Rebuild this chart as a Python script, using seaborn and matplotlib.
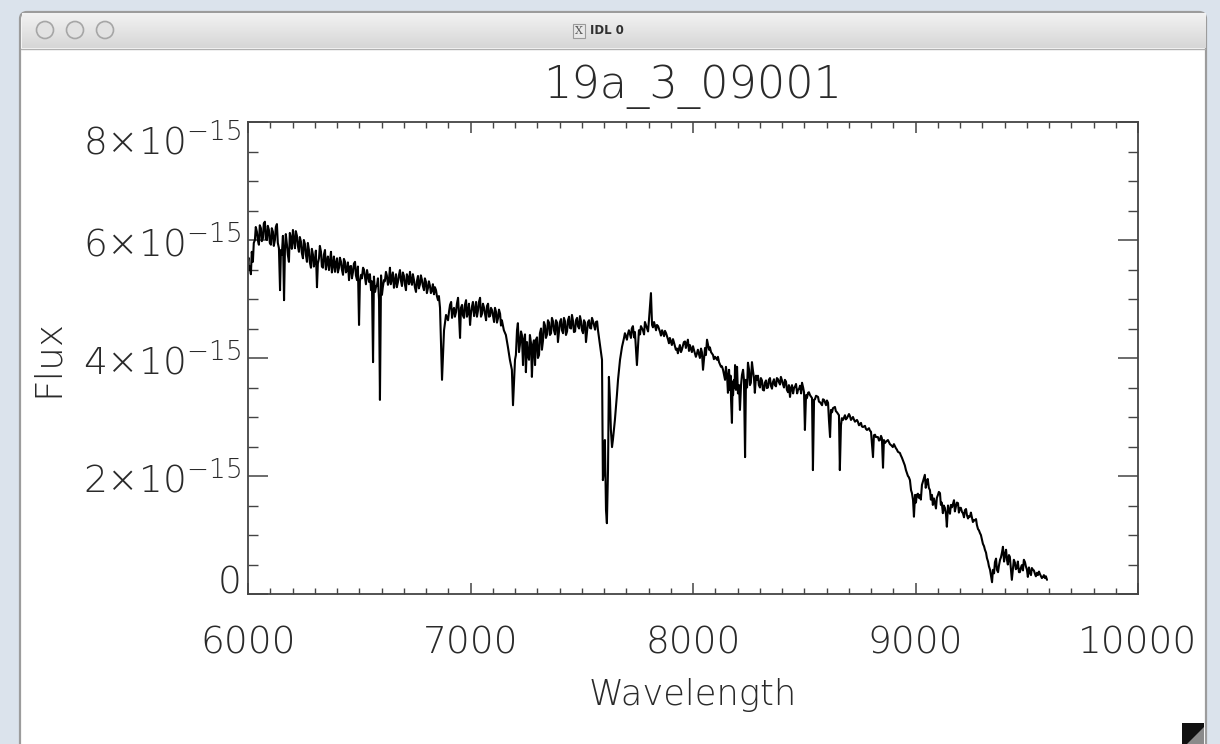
import numpy as np
import pandas as pd
import matplotlib
matplotlib.use("Agg")
import matplotlib.pyplot as plt
import seaborn as sns
from matplotlib.patches import FancyBboxPatch, Rectangle, Circle, Polygon
from matplotlib.ticker import MultipleLocator

# ---------------- data ----------------
# main trace of the spectrum
wavelength = [
    6000, 6004, 6013, 6022, 6031, 6040, 6049, 6058, 6067, 6076, 6085, 6094, 6103, 6112, 6121, 6130,
    6139, 6144, 6148, 6157, 6162, 6166, 6175, 6184, 6193, 6202, 6211, 6220, 6229, 6238,
    6247, 6256, 6265, 6274, 6283, 6292, 6301, 6310, 6319, 6328, 6337, 6346, 6355, 6364, 6373, 6382,
    6391, 6400, 6409, 6418, 6427, 6436, 6445, 6454, 6463, 6472, 6481, 6490, 6499, 6508, 6517,
    6526, 6535, 6544, 6553, 6562, 6571, 6580, 6589, 6593, 6602, 6611, 6620, 6629, 6638, 6647, 6656,
    6665, 6674, 6683, 6692, 6701, 6710, 6719, 6728, 6737, 6746, 6755, 6764, 6773, 6782, 6791, 6800,
    6809, 6818, 6827, 6836, 6845, 6854, 6863, 6872, 6881, 6890,
    6899, 6908, 6917, 6926, 6935, 6944, 6953, 6962, 6971, 6980, 6989, 6998, 7007, 7016, 7025, 7034,
    7043, 7052, 7061, 7070, 7079, 7088, 7097, 7106, 7115, 7124, 7133, 7141, 7150, 7159, 7168, 7177,
    7186, 7191, 7200,
    7209, 7213, 7222, 7231, 7236, 7240, 7249, 7254, 7263, 7267, 7276, 7281, 7290, 7294, 7303, 7312,
    7321, 7330, 7339, 7348, 7357, 7366, 7375, 7384, 7393, 7402, 7411, 7420, 7429, 7438, 7447, 7456,
    7465, 7474, 7483, 7492, 7501, 7510, 7519, 7528, 7537, 7546, 7555, 7564, 7573, 7582, 7591, 7595,
    7600, 7604, 7609, 7613, 7618, 7622, 7627, 7631, 7636, 7640, 7649, 7658, 7663, 7672, 7681, 7690,
    7694,
    7703, 7712, 7721, 7730, 7739, 7748, 7757, 7766, 7775, 7784, 7793, 7802, 7811, 7816, 7825, 7834,
    7843, 7852, 7861, 7870, 7879, 7888, 7896, 7905, 7914, 7923, 7932, 7941, 7950, 7959, 7968, 7977,
    7986, 7995, 8004, 8013, 8022, 8031, 8040, 8045, 8054, 8063, 8072, 8081, 8090, 8099, 8108, 8117,
    8126, 8135,
    8144, 8153, 8157, 8162, 8166, 8171, 8175, 8180, 8184, 8189, 8193, 8198, 8207, 8211, 8220, 8229,
    8234, 8238, 8247, 8256, 8265, 8274, 8278, 8287, 8296, 8305, 8314, 8323, 8332, 8341, 8350, 8359,
    8368, 8377, 8386, 8395, 8404, 8413, 8422, 8431, 8436, 8445, 8454, 8463, 8472, 8481, 8490, 8499,
    8503, 8508, 8517, 8526,
    8535, 8539, 8544, 8553, 8562, 8571, 8580, 8589, 8598, 8607, 8611, 8616, 8620, 8629, 8638, 8647,
    8656, 8660, 8665, 8674, 8683, 8692, 8701, 8710, 8719, 8728, 8737, 8746, 8755, 8764, 8773, 8782,
    8791, 8800, 8809, 8813, 8822, 8831, 8840, 8849, 8854, 8858, 8867, 8876, 8885, 8894, 8903, 8912,
    8921, 8930, 8939, 8948, 8957, 8966, 8975, 8980, 8984, 8989, 8993, 8998,
    9006, 9015, 9020, 9029, 9038, 9042, 9051, 9060, 9065, 9074, 9078, 9087, 9096, 9105, 9110, 9114,
    9123, 9132, 9141, 9150, 9159, 9164, 9173, 9182, 9191, 9200, 9209, 9213, 9222, 9231, 9240, 9245,
    9254, 9263, 9267, 9276, 9285, 9290, 9299, 9308, 9312, 9321, 9330, 9335, 9339, 9344, 9348, 9357,
    9366, 9371, 9380, 9389, 9393, 9402, 9411, 9420, 9424, 9429, 9433, 9438, 9447, 9456, 9465, 9469,
    9478, 9487, 9492, 9501, 9505, 9514, 9523, 9528, 9537, 9546, 9550, 9559, 9568, 9573, 9582, 9591,
]

# flux in units of 1e-15
flux_1e15 = [
    5.63, 5.49, 5.42, 5.63, 6.00, 6.14, 5.92, 6.20, 6.03, 6.31, 6.00, 6.17, 5.92, 6.14, 6.00, 6.27,
    5.86, 5.15, 5.83, 6.07, 4.98, 5.83, 5.92, 5.63, 6.03, 6.17, 5.86, 6.07, 5.80, 5.97,
    5.69, 5.93, 5.63, 5.83, 5.53, 5.75, 5.66, 5.20, 5.69, 5.80, 5.53, 5.83, 5.63, 5.49, 5.80, 5.59,
    5.46, 5.69, 5.53, 5.63, 5.41, 5.63, 5.49, 5.32, 5.56, 5.46, 5.63, 5.32, 4.56, 5.41, 5.53,
    5.36, 5.49, 5.29, 5.15, 3.93, 5.12, 5.24, 4.98, 3.29, 5.07, 5.32, 5.46, 5.24, 5.53, 5.36, 5.19,
    5.42, 5.29, 5.49, 5.22, 5.39, 5.15, 5.36, 5.46, 5.24, 5.32, 5.12, 5.39, 5.25, 5.32, 5.15, 5.29,
    5.19, 5.22, 5.15, 5.08, 5.15, 4.98, 4.85, 3.63, 4.47, 4.73,
    4.64, 4.90, 4.68, 4.85, 4.78, 5.02, 4.34, 4.90, 4.68, 4.98, 4.78, 4.56, 4.88, 4.71, 4.95, 4.81,
    5.02, 4.75, 4.85, 4.64, 4.92, 4.71, 4.81, 4.61, 4.78, 4.68, 4.75, 4.64, 4.47, 4.39, 4.19, 3.97,
    3.80, 3.20, 3.97,
    4.47, 4.59, 4.22, 4.39, 3.88, 4.31, 3.76, 4.27, 3.97, 4.39, 3.68, 4.22, 3.88, 4.31, 4.00, 4.42,
    4.14, 4.61, 4.34, 4.64, 4.39, 4.68, 4.47, 4.64, 4.27, 4.61, 4.47, 4.68, 4.39, 4.64, 4.51, 4.73,
    4.44, 4.64, 4.54, 4.71, 4.47, 4.64, 4.27, 4.61, 4.51, 4.68, 4.56, 4.61, 4.47, 4.22, 3.97, 1.93,
    2.10, 2.61, 1.42, 1.20, 2.10, 3.68, 3.29, 2.78, 2.49, 2.61, 2.95, 3.37, 3.63, 3.97, 4.19, 4.34,
    4.42,
    4.31, 4.47, 4.34, 4.54, 4.44, 3.88, 4.47, 4.54, 4.47, 4.61, 4.51, 4.64, 5.10, 4.56, 4.61, 4.47,
    4.54, 4.44, 4.47, 4.37, 4.42, 4.31, 4.34, 4.22, 4.27, 4.14, 4.08, 4.22, 4.14, 4.27, 4.17, 4.31,
    4.22, 4.10, 4.14, 4.02, 4.14, 4.00, 4.10, 3.80, 4.17, 4.31, 4.14, 4.10, 4.05, 4.02, 3.97, 3.93,
    3.85, 3.80,
    3.63, 3.71, 3.41, 3.80, 3.46, 3.29, 2.90, 3.37, 3.63, 3.88, 3.46, 3.85, 3.54, 3.12, 3.71, 3.63,
    2.32, 3.63, 3.92, 3.54, 3.93, 3.66, 3.41, 3.63, 3.54, 3.66, 3.46, 3.58, 3.49, 3.63, 3.53, 3.59,
    3.54, 3.66, 3.59, 3.68, 3.56, 3.63, 3.46, 3.54, 3.34, 3.54, 3.49, 3.56, 3.46, 3.53, 3.58, 3.42,
    2.78, 3.37, 3.41, 3.37,
    3.32, 2.10, 3.29, 3.36, 3.34, 3.25, 3.20, 3.29, 3.20, 3.24, 2.95, 2.66, 3.12, 3.15, 3.17, 3.08,
    3.03, 2.10, 2.86, 2.95, 3.03, 2.98, 3.05, 2.95, 3.00, 2.92, 2.95, 2.86, 2.90, 2.83, 2.85, 2.78,
    2.81, 2.75, 2.32, 2.69, 2.66, 2.66, 2.61, 2.64, 2.14, 2.61, 2.58, 2.61, 2.54, 2.51, 2.54, 2.47,
    2.41, 2.39, 2.31, 2.22, 2.10, 2.00, 1.93, 1.76, 1.71, 1.59, 1.31, 1.68,
    1.68, 1.63, 1.68, 1.85, 1.97, 2.02, 1.90, 1.80, 1.76, 1.68, 1.51, 1.54, 1.63, 1.73, 1.71, 1.51,
    1.37, 1.46, 1.14, 1.42, 1.51, 1.47, 1.59, 1.49, 1.54, 1.46, 1.39, 1.37, 1.42, 1.34, 1.32, 1.31,
    1.29, 1.25, 1.25, 1.17, 1.08, 1.03, 0.92, 0.81, 0.75, 0.61, 0.47, 0.41, 0.32, 0.20, 0.41, 0.54,
    0.41, 0.37, 0.58, 0.71, 0.80, 0.66, 0.58, 0.66, 0.63, 0.41, 0.24, 0.44, 0.53, 0.44, 0.37, 0.37,
    0.49, 0.58, 0.54, 0.41, 0.29, 0.37, 0.44, 0.41, 0.34, 0.36, 0.32, 0.34, 0.27, 0.29, 0.27, 0.24,
]

# additional samples (opposite edges of the band)
wavelength_extra = [
    6002, 6008, 6017, 6026, 6035, 6044, 6053, 6062, 6071, 6080, 6089, 6098, 6107, 6116, 6125, 6134,
    6152, 6170, 6179, 6188, 6197, 6206, 6215, 6224, 6233, 6242,
    6251, 6260, 6269, 6278, 6287, 6296, 6305, 6314, 6323, 6332, 6341, 6350, 6359, 6368, 6377, 6386,
    6395, 6404, 6413, 6422, 6431, 6440, 6449, 6458, 6467, 6476, 6485, 6494, 6503, 6512, 6521,
    6530, 6539, 6548, 6557, 6566, 6575, 6584, 6598, 6606, 6615, 6624, 6633, 6642, 6651, 6660, 6669,
    6678, 6687, 6696, 6705, 6714, 6723, 6732, 6741, 6750, 6759, 6768, 6777, 6786, 6795, 6804, 6813,
    6822, 6831, 6840, 6849, 6858,
    6904, 6913, 6921, 6930, 6939, 6948, 6957, 6966, 6975, 6984, 6993, 7002, 7011, 7020, 7029, 7038,
    7047, 7056, 7065, 7074, 7083, 7092, 7101, 7110, 7119, 7128, 7137,
    7204, 7218, 7227, 7245, 7258, 7272, 7285, 7299, 7308, 7317, 7326, 7335, 7344, 7353, 7362, 7371,
    7380, 7389, 7398, 7407, 7416, 7425, 7434, 7443, 7452, 7461, 7470, 7479, 7488, 7497, 7506, 7515,
    7524, 7533, 7542, 7551, 7560, 7569,
    7707, 7725, 7735, 7762, 7780, 7798, 7820, 7838, 7856, 7874, 7892, 7910, 7928, 7946, 7964, 7982,
    8000, 8018, 8036, 8058, 8076, 8094, 8112, 8130,
    8148, 8160, 8169, 8178, 8187, 8196, 8202, 8216, 8225, 8243, 8252, 8260, 8269, 8283, 8292, 8301,
    8310, 8319, 8328, 8337, 8346, 8355, 8364, 8373, 8382, 8391, 8400, 8409, 8418, 8427, 8441, 8450,
    8459, 8468, 8477, 8486, 8495, 8512, 8521,
    8548, 8566, 8584, 8602, 8625, 8642, 8669, 8687, 8705, 8723, 8741, 8759, 8777, 8795, 8818, 8836,
    8845, 8863, 8880, 8898, 8916, 8934, 8952, 8970,
    9002, 9011, 9024, 9033, 9046, 9055, 9069, 9083, 9092, 9101, 9118, 9127, 9137, 9146, 9155, 9168,
    9177, 9186, 9195, 9204, 9218, 9227, 9236, 9249, 9258, 9272, 9281, 9294, 9303, 9317, 9326, 9353,
    9362, 9375, 9384, 9398, 9407, 9415, 9442, 9451, 9460, 9474, 9483, 9496, 9510, 9519, 9532, 9541,
    9555, 9564, 9577, 9586,
]
flux_extra_1e15 = [
    5.70, 5.55, 5.80, 5.95, 6.22, 6.00, 6.25, 5.98, 6.28, 6.02, 6.24, 5.95, 6.20, 5.90, 6.22, 5.95,
    5.75, 6.10, 5.75, 6.12, 5.85, 6.00, 6.15, 5.90, 6.05, 5.78,
    6.00, 5.75, 5.95, 5.62, 5.85, 5.55, 5.82, 5.60, 5.90, 5.55, 5.75, 5.50, 5.72, 5.62, 5.45, 5.72,
    5.60, 5.45, 5.70, 5.50, 5.68, 5.45, 5.62, 5.55, 5.35, 5.60, 5.40, 5.55, 5.30, 5.35, 5.50,
    5.25, 5.40, 5.42, 5.30, 5.38, 5.20, 5.35, 5.40, 5.20, 5.30, 5.40, 5.30, 5.25, 5.45, 5.30, 5.20,
    5.40, 5.32, 5.45, 5.25, 5.42, 5.25, 5.30, 5.42, 5.20, 5.30, 5.18, 5.40, 5.22, 5.35, 5.10, 5.30,
    5.10, 5.25, 5.20, 5.05, 5.05,
    4.80, 4.95, 4.80, 4.70, 4.92, 4.75, 4.85, 4.72, 4.90, 4.70, 4.92, 4.75, 4.95, 4.80, 4.70, 4.95,
    4.70, 4.92, 4.75, 4.88, 4.70, 4.85, 4.72, 4.85, 4.60, 4.82, 4.55,
    4.05, 4.10, 4.45, 4.40, 4.05, 4.25, 4.30, 4.35, 4.05, 4.50, 4.30, 4.55, 4.40, 4.60, 4.42, 4.62,
    4.40, 4.60, 4.45, 4.66, 4.42, 4.62, 4.45, 4.70, 4.50, 4.62, 4.45, 4.68, 4.50, 4.62, 4.42, 4.60,
    4.45, 4.64, 4.50, 4.62, 4.48, 4.62,
    4.40, 4.50, 4.35, 4.40, 4.40, 4.45, 4.52, 4.56, 4.38, 4.46, 4.25, 4.32, 4.16, 4.10, 4.28, 4.12,
    4.20, 4.08, 4.16, 4.05, 4.18, 3.98, 4.02, 3.86,
    3.85, 3.55, 3.70, 3.60, 3.50, 3.65, 3.40, 3.55, 3.80, 3.50, 3.80, 3.58, 3.80, 3.70, 3.70, 3.50,
    3.62, 3.45, 3.62, 3.50, 3.66, 3.48, 3.64, 3.52, 3.64, 3.55, 3.62, 3.50, 3.60, 3.42, 3.50, 3.40,
    3.52, 3.40, 3.48, 3.40, 3.50, 3.32, 3.42,
    3.30, 3.26, 3.30, 3.28, 3.08, 3.10, 2.98, 2.96, 3.02, 2.96, 2.92, 2.84, 2.80, 2.77, 2.70, 2.60,
    2.68, 2.56, 2.58, 2.49, 2.45, 2.35, 2.18, 1.98,
    1.55, 1.70, 1.60, 1.90, 1.80, 1.95, 1.60, 1.62, 1.45, 1.68, 1.55, 1.50, 1.35, 1.50, 1.36, 1.52,
    1.40, 1.55, 1.38, 1.46, 1.30, 1.44, 1.28, 1.38, 1.22, 1.27, 1.10, 1.00, 0.85, 0.70, 0.55, 0.35,
    0.60, 0.48, 0.62, 0.55, 0.75, 0.50, 0.58, 0.42, 0.55, 0.45, 0.40, 0.47, 0.45, 0.32, 0.40, 0.30,
    0.38, 0.30, 0.32, 0.30,
]
FLUX_UNIT = 1e-15

x_ticks = [6000, 7000, 8000, 9000, 10000]
x_tick_labels = ["6000", "7000", "8000", "9000", "10000"]
y_ticks = [0, 2e-15, 4e-15, 6e-15, 8e-15]
y_tick_labels = ["0", "2×10$^{-15}$", "4×10$^{-15}$", "6×10$^{-15}$", "8×10$^{-15}$"]
title_text = "19a_3_09001"
window_title = "IDL 0"

df = pd.DataFrame({"wavelength": wavelength + wavelength_extra,
                   "flux": np.array(flux_1e15 + flux_extra_1e15) * FLUX_UNIT})
df = df.sort_values("wavelength", kind="stable").reset_index(drop=True)

# ---------------- style ----------------
sns.set_theme(style="white")
FONT = ["DejaVu Sans", "Lato"]
plt.rcParams["font.family"] = FONT
plt.rcParams["font.weight"] = 200
plt.rcParams["axes.titleweight"] = 200
plt.rcParams["axes.labelweight"] = 200
plt.rcParams["mathtext.default"] = "regular"
plt.rcParams["axes.unicode_minus"] = True

W, H = 1220, 744
fig = plt.figure(figsize=(W / 100, H / 100), dpi=100)
fig.patch.set_facecolor("#dbe3ec")

# ---------------- desktop / window chrome ----------------
bg = fig.add_axes([0, 0, 1, 1], zorder=0)
bg.axis("off")
win = FancyBboxPatch((20, 12), 1186, 800, boxstyle="round,pad=0,rounding_size=7",
                     fc="white", ec="#9c9c9c", lw=1.6)
bg.add_patch(win)
grad = np.linspace(0.95, 0.84, 40)[:, None, None] * np.ones((1, 2, 3))
bg.imshow(grad, extent=[21.5, 1205, 48, 13], aspect="auto", interpolation="bilinear", zorder=2)
bg.plot([21, 1205], [48.5, 48.5], color="#b0b0b0", lw=1, zorder=3)
for cx in (45, 75, 105):
    bg.add_patch(Circle((cx, 30), 8.5, fc="#e2e2e2", ec="#a6a6a6", lw=1.2, zorder=4))
bg.text(579, 31, "X", fontsize=8, family="DejaVu Serif", weight="normal", ha="center",
        va="center", color="#555", zorder=4,
        bbox=dict(boxstyle="square,pad=0.15", fc="#e8e8e8", ec="#9a9a9a", lw=0.8))
bg.text(590, 31, window_title, fontsize=8.5, family="DejaVu Sans", weight="bold",
        ha="left", va="center", color="#303030", zorder=4)
bg.add_patch(Rectangle((1182, 723), 22, 22, fc="#111111", ec="none", zorder=4))
bg.add_patch(Polygon([[1204, 727], [1204, 744], [1187, 744]], closed=True,
                     fc="#8a8a8a", ec="none", zorder=5))
bg.set_xlim(0, W)
bg.set_ylim(H, 0)

# ---------------- plot ----------------
ax = fig.add_axes([248 / W, 1 - 594 / H, 890 / W, 472 / H], zorder=2)
ax.set_facecolor("white")
sns.lineplot(data=df, x="wavelength", y="flux", ax=ax, color="black", lw=1.5,
             sort=False, estimator=None)
ax.set_xlim(6000, 10000)
ax.set_ylim(0, 8e-15)

ax.set_xticks(x_ticks, labels=x_tick_labels)
ax.set_yticks(y_ticks, labels=y_tick_labels)
ax.xaxis.set_minor_locator(MultipleLocator(100))
ax.yaxis.set_minor_locator(MultipleLocator(0.5e-15))

tick_col = "#444444"
txt_col = "#2a2a2a"
ax.tick_params(which="both", direction="in", bottom=True, left=True, top=True, right=True,
               color=tick_col, labelcolor=txt_col)
ax.tick_params(axis="x", which="major", length=8, width=1.1, pad=23, labelsize=27)
ax.tick_params(axis="x", which="minor", length=4, width=1.0)
ax.tick_params(axis="y", which="major", length=14.5, width=1.1, pad=5, labelsize=27)
ax.tick_params(axis="y", which="minor", length=7.2, width=1.0)
for sp in ax.spines.values():
    sp.set_color(tick_col)
    sp.set_linewidth(1.3)

# IDL-like vertical placement of the end labels
ylabels = ax.get_yticklabels()
ylabels[0].set_va("baseline")
ylabels[-1].set_va("top")

ax.set_title(title_text, fontsize=32, pad=17, color=txt_col)
ax.set_xlabel("Wavelength", fontsize=25.5, color=txt_col)
ax.set_ylabel("Flux", fontsize=27, color=txt_col)
ax.xaxis.set_label_coords(0.5, (594 - 705) / 472)
ax.xaxis.label.set_va("baseline")
ax.yaxis.set_label_coords((47 - 248) / 890, 0.5)
ax.yaxis.label.set_va("center")

fig.savefig("out.png", dpi=100)
